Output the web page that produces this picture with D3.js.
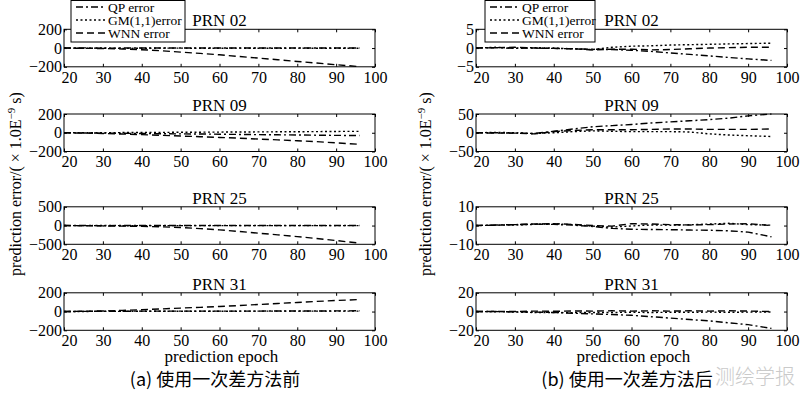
<!DOCTYPE html>
<html>
<head>
<meta charset="utf-8">
<script src="https://cdn.jsdelivr.net/npm/d3@7"></script>
<style>
    body { margin: 0; background: #fff; }
    svg text { font-family: "Liberation Serif", "Times New Roman", serif; fill: #000; }
    .tick line { stroke: #000; }
    .box { fill: none; stroke: #000; stroke-width: 1; }
    .line { fill: none; stroke: #000; stroke-width: 1.4; }
    .qp { stroke-dasharray: 7,3,2,3; }
    .gm { stroke-dasharray: 2,2.5; }
    .wnn { stroke-dasharray: 7,4; }
</style>
</head>
<body>
<div class="container"></div>
<script>
// prediction epochs (x values of every series)
var epochs = [20, 25, 30, 35, 40, 45, 50, 55, 60, 65, 70, 75, 80, 85, 90, 96];
var prnNames = ['PRN 02', 'PRN 09', 'PRN 25', 'PRN 31'];
var xTicks = [20, 30, 40, 50, 60, 70, 80, 90, 100];
var yLimitsBefore = [200, 200, 500, 200];
var yLimitsAfter = [5, 50, 10, 20];
var seriesNames = ['QP error', 'GM(1,1)error', 'WNN error'];
var captions = ['(a) 使用一次差方法前', '(b) 使用一次差方法后'];

// (a) before first difference, one row per PRN
var qpBefore = [
    [0, 2, -3, 1, 0, 1, 0, 0, 0, 0, 0, 0, 0, 0, 0, 0],
    [0, -2, -4, -5, -8, -10, -12, -13, -16, -18, -20, -22, -24, -26, -28, -30],
    [0, 3, -5, 2, 0, 1, 0, 0, 0, 0, 0, 0, 0, 0, 0, 0],
    [0, 2, 4, 3, 5, 4, 5, 4, 5, 4, 5, 6, 5, 6, 7, 8]
];
var gmBefore = [
    [0, -2, 1, -4, -2, -1, -1, -2, -2, -1, -2, -2, -1, -2, -2, -2],
    [0, 1, 0, 2, 3, 4, 5, 6, 7, 8, 9, 10, 11, 12, 14, 15],
    [0, -3, 2, -4, -2, -1, -2, -2, -1, -2, -2, -1, -2, -2, -1, -2],
    [0, 1, 2, 2, 3, 3, 3, 3, 3, 4, 4, 4, 4, 4, 5, 5]
];
var wnnBefore = [
    [0, -3, -5, -10, -18, -29, -43, -57, -72, -90, -107, -125, -143, -160, -178, -198],
    [0, -4, -8, -14, -20, -27, -35, -42, -50, -58, -67, -76, -85, -95, -108, -123],
    [0, -5, -10, -15, -20, -35, -53, -82, -115, -158, -203, -248, -294, -345, -400, -470],
    [0, 3, 6, 12, 20, 28, 37, 45, 54, 64, 75, 86, 97, 108, 118, 128]
];

// (b) after first difference
var qpAfter = [
    [0, 0.1, -0.1, 0, -0.1, -0.2, -0.3, -0.4, -0.6, -0.9, -1.3, -1.7, -2.1, -2.5, -2.9, -3.3],
    [0, 0, -1, -2, 4, 10, 16, 19, 22, 26, 29, 32, 35, 39, 45, 50],
    [0, 0.3, 0.5, 0.8, 0.6, 0.2, -0.5, -1.5, -2, -2.1, -2.2, -2.4, -2.5, -2.8, -3.5, -6],
    [0, 0, -0.3, -0.6, -1, -1.8, -2.5, -3.2, -4, -5.5, -7, -8.5, -10, -12, -14, -18]
];
var gmAfter = [
    [0, 0.2, 0, 0.1, 0, -0.2, -0.4, 0.2, 0.5, 0.6, 0.8, 0.9, 1.0, 1.1, 1.2, 1.3],
    [0, 1, 0, -2, 0, 3, 5, 4, 3, 3, 3, 2, -3, -6, -8, -10],
    [0, 0.2, 0.3, 0.6, 0.9, 0.5, -0.3, -0.8, -0.2, 0.3, 0.2, 0.4, 0.8, 1.2, 0.5, 0.2],
    [0, -0.2, -0.5, -1, -1, -1.2, -1, -1, -0.8, -1, -0.8, -0.8, -0.6, -0.8, -0.6, -0.5]
];
var wnnAfter = [
    [0, 0.1, 0.2, 0, -0.1, -0.2, -0.5, -0.3, -0.3, -0.5, -0.4, -0.2, 0, 0.1, 0.2, 0.2],
    [0, -1, -1, -3, 3, 6, 8, 8, 8, 9, 10, 10, 9, 9, 9, 10],
    [0, 0.2, 0.5, 0.8, 1, 0.6, 0, -0.3, 1, 0.8, 0.5, 0.3, 0.5, 0.8, 1, 0],
    [0, 0.2, 0, 0.5, 0.3, 0.6, 0.5, 0.8, 0.5, 0.8, 0.5, 0.8, 0.5, 0.8, 0.5, 0]
];

var WIDTH = 800;
var HEIGHT = 397;
var PLOT_W = 311;
var PLOT_H = 37.5;
var PANEL_TOPS = [29.3, 114, 206.8, 292.8];
var _svg;

var translate = function (x, y) {
    return 'translate(' + x + ',' + y + ')';
};

var drawPanel = function (left, top, index, limit, series) {
    var xScale = d3.scaleLinear().domain([20, 100]).range([0, PLOT_W]);
    var yScale = d3.scaleLinear().domain([-limit, limit]).range([PLOT_H, 0]);
    var yTicks = [-limit, 0, limit];

    var g = _svg.append('g').attr('transform', translate(left, top));

    var bottom = g.append('g')
        .attr('transform', translate(0, PLOT_H))
        .call(d3.axisBottom(xScale).tickValues(xTicks).tickSizeInner(-3).tickSizeOuter(0).tickPadding(4.5));
    bottom.selectAll('text').style('font-size', '16px')
        .attr('dx', function (d, i) { return i === 0 ? 5 : 0; });

    g.append('g')
        .call(d3.axisTop(xScale).tickValues(xTicks).tickSizeInner(-3).tickSizeOuter(0).tickFormat(''));

    var leftAxis = g.append('g')
        .call(d3.axisLeft(yScale).tickValues(yTicks).tickSizeInner(-3).tickSizeOuter(0).tickPadding(2));
    leftAxis.selectAll('text').style('font-size', '16px');

    g.append('g')
        .attr('transform', translate(PLOT_W, 0))
        .call(d3.axisRight(yScale).tickValues(yTicks).tickSizeInner(-3).tickSizeOuter(0).tickFormat(''));

    g.selectAll('.domain').remove();

    var line = d3.line()
        .x(function (d, i) { return xScale(epochs[i]); })
        .y(function (d) { return yScale(d); })
        .curve(d3.curveLinear);

    var classes = ['qp', 'gm', 'wnn'];
    series.forEach(function (s, k) {
        g.append('path')
            .datum(s[index])
            .attr('d', line)
            .classed('line', true)
            .classed(classes[k], true);
    });

    g.append('rect')
        .attr('class', 'box')
        .attr('width', PLOT_W)
        .attr('height', PLOT_H);

    g.append('text')
        .attr('x', PLOT_W / 2)
        .attr('y', -3)
        .attr('text-anchor', 'middle')
        .style('font-size', '17px')
        .text(prnNames[index]);
};

var drawLegend = function (x, w) {
    var g = _svg.append('g').attr('transform', translate(x, 0.5));
    g.append('rect')
        .attr('width', w)
        .attr('height', 41.5)
        .attr('fill', '#fff')
        .attr('stroke', '#000');
    var classes = ['qp', 'gm', 'wnn'];
    var rows = g.selectAll('.legend-row')
        .data(seriesNames)
        .enter().append('g')
        .attr('transform', function (d, i) { return translate(0, 6.5 + i * 13); });
    rows.append('line')
        .attr('x1', 5).attr('x2', 35)
        .attr('class', function (d, i) { return 'line ' + classes[i]; });
    rows.append('text')
        .attr('x', 37)
        .attr('y', 4.5)
        .style('font-size', '13.5px')
        .text(function (d) { return d; });
};

var drawYLabel = function (x) {
    var t = _svg.append('text')
        .attr('transform', translate(x, 184) + ' rotate(-90)')
        .attr('text-anchor', 'middle')
        .style('font-size', '16px');
    t.append('tspan').text('prediction error/( × 1.0E');
    t.append('tspan').attr('dy', -6).style('font-size', '11px').text('−9');
    t.append('tspan').attr('dy', 6).text(' s)');
};

var drawChart = function () {
    _svg = d3.select('.container')
        .append('svg')
        .attr('width', WIDTH)
        .attr('height', HEIGHT);

    var sides = [
        {left: 64, limits: yLimitsBefore, series: [qpBefore, gmBefore, wnnBefore], labelX: 21, legendX: 71, legendW: 114, caption: 215},
        {left: 476, limits: yLimitsAfter, series: [qpAfter, gmAfter, wnnAfter], labelX: 431, legendX: 485, legendW: 110, caption: 627}
    ];

    sides.forEach(function (side, s) {
        PANEL_TOPS.forEach(function (top, i) {
            drawPanel(side.left, top, i, side.limits[i], side.series);
        });
        drawLegend(side.legendX, side.legendW);
        drawYLabel(side.labelX);

        _svg.append('text')
            .attr('x', side.left + PLOT_W / 2 + 2)
            .attr('y', 362)
            .attr('text-anchor', 'middle')
            .style('font-size', '17px')
            .text('prediction epoch');

        _svg.append('text')
            .attr('x', side.caption)
            .attr('y', 386)
            .attr('text-anchor', 'middle')
            .style('font-size', '18px')
            .style('font-family', '"Noto Sans CJK SC", sans-serif')
            .text(captions[s]);
    });

    _svg.append('text')
        .attr('x', 795)
        .attr('y', 384)
        .attr('text-anchor', 'end')
        .style('font-size', '20px')
        .style('font-family', '"Noto Sans CJK SC", sans-serif')
        .style('font-weight', 300)
        .style('fill', '#cacaca')
        .text('测绘学报');
};

window.onload = drawChart;
</script>
</body>
</html>
